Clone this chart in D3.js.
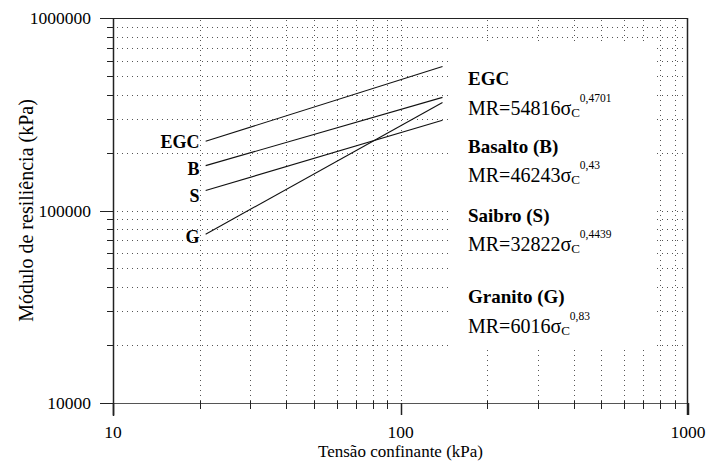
<!DOCTYPE html>
<html>
<head>
<meta charset="utf-8">
<script src="https://cdn.jsdelivr.net/npm/d3@7"></script>
<style>
  body { margin: 0; background: #fff; }
</style>
</head>
<body>
<div id="chart"></div>
<script>
////////////////////////////////////////////////////////////
//////////////////////// Data //////////////////////////////
////////////////////////////////////////////////////////////

var xDomain = [10, 1000],
    yDomain = [10000, 1000000];

var xTickLabels = [10, 100, 1000],
    yTickLabels = [10000, 100000, 1000000];

// confining stress range of the fitted curves (kPa)
var sigmaC = [21, 140];

// resilient modulus at both ends of each curve (kPa)
var mrEGC = [229000, 560000],
    mrBasalto = [171000, 387000],
    mrSaibro = [127000, 294000],
    mrGranito = [75300, 363500];

var shortNames = ["EGC", "B", "S", "G"],
    longNames = ["EGC", "Basalto (B)", "Saibro (S)", "Granito (G)"],
    coefs = ["54816", "46243", "32822", "6016"],
    expos = ["0,4701", "0,43", "0,4439", "0,83"];

////////////////////////////////////////////////////////////
//////////////////////// Set-Up ////////////////////////////
////////////////////////////////////////////////////////////

var W = 707, H = 462;
var plot = {left: 113, right: 688, top: 18, bottom: 403};

var x = d3.scaleLog().domain(xDomain).range([plot.left, plot.right]);
var y = d3.scaleLog().domain(yDomain).range([plot.bottom, plot.top]);

var series = [mrEGC, mrBasalto, mrSaibro, mrGranito].map(function(v, i) {
  return {key: shortNames[i], name: longNames[i], coef: coefs[i], expo: expos[i],
          pts: sigmaC.map(function(s, j) { return [s, v[j]]; })};
});

var svg = d3.select("#chart").append("svg")
  .attr("width", W)
  .attr("height", H)
  .style("font-family", "'Liberation Serif'");

////////////////////////////////////////////////////////////
//////////////////////// Grid //////////////////////////////
////////////////////////////////////////////////////////////

var grid = svg.append("g")
  .attr("stroke", "#555")
  .attr("stroke-width", 1)
  .attr("stroke-dasharray", "1,4");

grid.selectAll("line.vg")
  .data(x.ticks().filter(function(d) { return d > xDomain[0] && d < xDomain[1]; }))
  .enter().append("line")
  .attr("class", "vg")
  .attr("x1", function(d) { return Math.round(x(d)) + 0.5; })
  .attr("x2", function(d) { return Math.round(x(d)) + 0.5; })
  .attr("y1", plot.top + 2)
  .attr("y2", plot.bottom);

grid.selectAll("line.hg")
  .data(y.ticks().filter(function(d) { return d > yDomain[0] && d < yDomain[1]; }))
  .enter().append("line")
  .attr("class", "hg")
  .attr("y1", function(d) { return Math.round(y(d)) + 0.5; })
  .attr("y2", function(d) { return Math.round(y(d)) + 0.5; })
  .attr("x1", plot.left + 4)
  .attr("x2", plot.right);

// white panel behind the equations
svg.append("rect")
  .attr("x", 449)
  .attr("y", 44)
  .attr("width", 204)
  .attr("height", 306)
  .attr("fill", "#fff");

////////////////////////////////////////////////////////////
//////////////////////// Frame & ticks /////////////////////
////////////////////////////////////////////////////////////

var frame = svg.append("g").attr("stroke", "#222").attr("fill", "none");

frame.append("line")   // top
  .attr("x1", plot.left - 13).attr("x2", plot.right)
  .attr("y1", plot.top + 0.5).attr("y2", plot.top + 0.5)
  .attr("stroke-width", 1);
frame.append("line")   // bottom
  .attr("x1", plot.left - 13).attr("x2", plot.right)
  .attr("y1", plot.bottom + 0.5).attr("y2", plot.bottom + 0.5)
  .attr("stroke", "#555");
frame.append("line")   // left
  .attr("x1", plot.left + 0.5).attr("x2", plot.left + 0.5)
  .attr("y1", plot.top).attr("y2", plot.bottom + 13)
  .attr("stroke-width", 1.5);
frame.append("line")   // right
  .attr("x1", plot.right - 0.5).attr("x2", plot.right - 0.5)
  .attr("y1", plot.top).attr("y2", plot.bottom + 12)
  .attr("stroke-width", 1.5);

// y ticks
frame.selectAll("line.yt")
  .data(y.ticks())
  .enter().append("line")
  .attr("class", "yt")
  .attr("x1", function(d) { return yTickLabels.indexOf(d) >= 0 ? plot.left - 13 : plot.left - 6; })
  .attr("x2", plot.left)
  .attr("y1", function(d) { return Math.round(y(d)) + 0.5; })
  .attr("y2", function(d) { return Math.round(y(d)) + 0.5; });

// x ticks
frame.selectAll("line.xt")
  .data(x.ticks())
  .enter().append("line")
  .attr("class", "xt")
  .attr("x1", function(d) { return Math.round(x(d)) + 0.5; })
  .attr("x2", function(d) { return Math.round(x(d)) + 0.5; })
  .attr("y1", function(d) { return xTickLabels.indexOf(d) >= 0 ? plot.bottom : plot.bottom - 2; })
  .attr("y2", function(d) { return xTickLabels.indexOf(d) >= 0 ? plot.bottom + 12 : plot.bottom + 6; })
  .attr("stroke-width", function(d) { return xTickLabels.indexOf(d) >= 0 ? 1.5 : 1; });

////////////////////////////////////////////////////////////
//////////////////////// Tick labels ///////////////////////
////////////////////////////////////////////////////////////

svg.selectAll("text.ylab")
  .data(yTickLabels)
  .enter().append("text")
  .attr("class", "ylab")
  .attr("x", plot.left - 22)
  .attr("y", function(d) { return y(d); })
  .attr("dy", "0.36em")
  .attr("text-anchor", "end")
  .style("font-size", "17.5px")
  .text(function(d) { return d; });

svg.selectAll("text.xlab")
  .data(xTickLabels)
  .enter().append("text")
  .attr("class", "xlab")
  .attr("x", function(d) { return x(d); })
  .attr("y", plot.bottom + 35)
  .attr("text-anchor", "middle")
  .style("font-size", "17.5px")
  .text(function(d) { return d; });

svg.append("text")
  .attr("x", x(100))
  .attr("y", plot.bottom + 54)
  .attr("text-anchor", "middle")
  .style("font-size", "17px")
  .text("Tensão confinante (kPa)");

svg.append("text")
  .attr("transform", "translate(33," + ((plot.top + plot.bottom) / 2) + ") rotate(-90)")
  .attr("text-anchor", "middle")
  .style("font-size", "20px")
  .text("Módulo de resiliência (kPa)");

////////////////////////////////////////////////////////////
//////////////////////// Curves ////////////////////////////
////////////////////////////////////////////////////////////

var line = d3.line()
  .x(function(d) { return x(d[0]); })
  .y(function(d) { return y(d[1]); });

svg.selectAll("path.curve")
  .data(series)
  .enter().append("path")
  .attr("class", "curve")
  .attr("d", function(d) { return line(d.pts); })
  .attr("fill", "none")
  .attr("stroke", "#111")
  .attr("stroke-width", 1.1);

// labels at the start of each curve
var labelDy = [7, 9, 11, 9];
svg.selectAll("text.clab")
  .data(series)
  .enter().append("text")
  .attr("class", "clab")
  .attr("x", function(d) { return x(d.pts[0][0]) - 6; })
  .attr("y", function(d, i) { return y(d.pts[0][1]) + labelDy[i]; })
  .attr("text-anchor", "end")
  .style("font-size", "18px")
  .style("font-weight", "bold")
  .text(function(d) { return d.key; });

////////////////////////////////////////////////////////////
//////////////////////// Equations /////////////////////////
////////////////////////////////////////////////////////////

var legX = 468,
    legTitleY = [85, 153, 222, 303],
    legEqY = [115, 182, 251, 333];

var leg = svg.selectAll("g.leg")
  .data(series)
  .enter().append("g")
  .attr("class", "leg");

leg.append("text")
  .attr("x", legX)
  .attr("y", function(d, i) { return legTitleY[i]; })
  .style("font-size", "19px")
  .style("font-weight", "bold")
  .text(function(d) { return d.name; });

var eq = leg.append("text")
  .attr("x", legX)
  .attr("y", function(d, i) { return legEqY[i]; })
  .style("font-size", "20px");

eq.append("tspan").text(function(d) { return "MR=" + d.coef + "σ"; });
eq.append("tspan").attr("dy", 2).style("font-size", "13px").text("C");
eq.append("tspan").attr("dy", -15).style("font-size", "11.5px").text(function(d) { return d.expo; });
</script>
</body>
</html>
